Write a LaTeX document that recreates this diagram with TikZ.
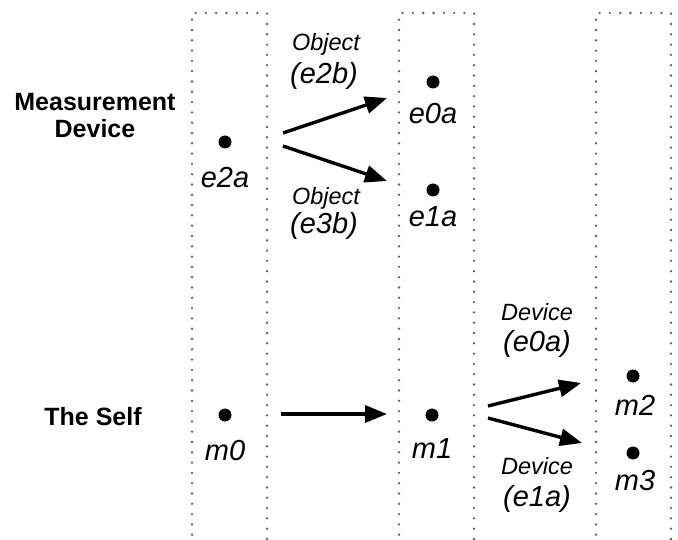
\documentclass[tikz,border=0pt]{standalone}
\usepackage{fontspec}
\setmainfont{Liberation Sans}
\usetikzlibrary{arrows.meta}
\begin{document}
\begin{tikzpicture}[x=1pt,y=-1pt,
  lane/.style={draw=black!62, line width=2.6pt, line cap=round, dash pattern=on 0pt off 10.3pt},
  state/.style={circle, fill=black, inner sep=0pt, minimum size=13pt},
  code/.style={anchor=base, inner sep=0pt, font=\fontsize{29}{33}\selectfont\itshape},
  kind/.style={anchor=base, inner sep=0pt, font=\fontsize{23.5}{27}\selectfont\itshape},
  row/.style={anchor=base, inner sep=0pt, align=center, font=\fontsize{25}{27}\selectfont\bfseries},
  trans/.style={line width=3.4pt, -{Triangle[length=22pt,width=17pt]}}]
\useasboundingbox (0,0) rectangle (678,540);
\fill[white] (0,0) rectangle (678,540);

% time slices, open at the bottom
\draw[lane] (192,545) -- (192,13) -- (267,13) -- (267,545);
\draw[lane] (399,545) -- (399,13) -- (474,13) -- (474,545);
\draw[lane] (596,545) -- (596,13) -- (671,13) -- (671,545);

% row headings
\node[row] (rowdev) at (95,138) {Measurement\\Device};
\node[row] (rowself) at (93,425) {The Self};

% states
\node[state] (e2a) at (225,142) {};
\node[code] (le2a) at (225,188) {e2a};
\node[state] (e0a) at (433,82) {};
\node[code] (le0a) at (433,124) {e0a};
\node[state] (e1a) at (433,190) {};
\node[code] (le1a) at (433,227) {e1a};
\node[state] (m0) at (225,415) {};
\node[code] (lm0) at (225,460) {m0};
\node[state] (m1) at (432,415) {};
\node[code] (lm1) at (432,458) {m1};
\node[state] (m2) at (633,376) {};
\node[code] (lm2) at (635,415) {m2};
\node[state] (m3) at (633,453) {};
\node[code] (lm3) at (635,490) {m3};

% transition labels
\node[kind] (o1) at (326,51) {Object};
\node[code] (o1c) at (324,84) {(e2b)};
\node[kind] (o2) at (326,205) {Object};
\node[code] (o2c) at (324,234) {(e3b)};
\node[kind] (d1) at (537,320) {Device};
\node[code] (d1c) at (537,352) {(e0a)};
\node[kind] (d2) at (537,474) {Device};
\node[code] (d2c) at (537,506) {(e1a)};

% arrow ends
\coordinate (s1) at (283,133);
\coordinate (t1) at (387,98);
\coordinate (s2) at (283,146);
\coordinate (t2) at (387,181);
\coordinate (s3) at (281,414);
\coordinate (t3) at (387,414);
\coordinate (s4) at (488,406);
\coordinate (t4) at (581,383);
\coordinate (s5) at (488,418);
\coordinate (t5) at (582,443);

\draw[trans] (s1) -- (t1);
\draw[trans] (s2) -- (t2);
\draw[trans] (s3) -- (t3);
\draw[trans] (s4) -- (t4);
\draw[trans] (s5) -- (t5);
\end{tikzpicture}
\end{document}
